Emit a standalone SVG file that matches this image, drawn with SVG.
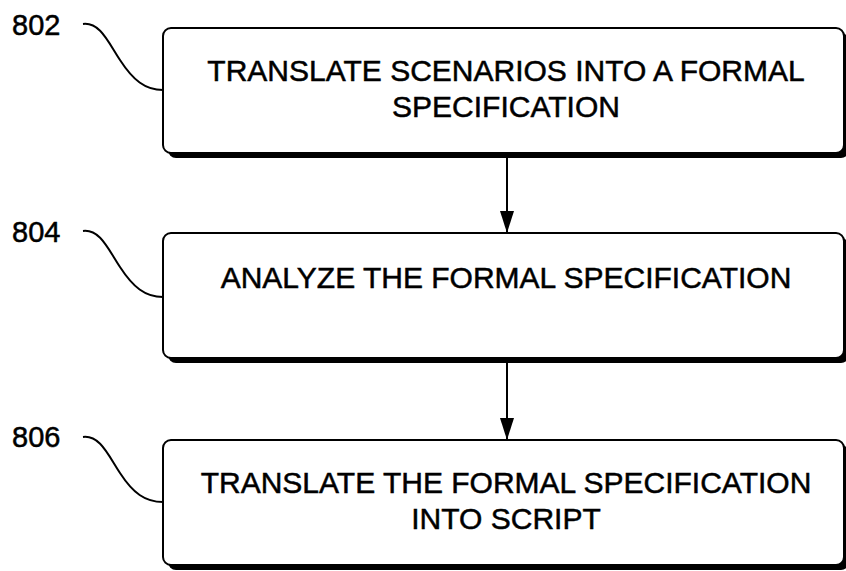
<svg xmlns="http://www.w3.org/2000/svg" width="846" height="571" viewBox="0 0 846 571">
<style>
.box{fill:#fff;stroke:#000;stroke-width:2}
.shadow{fill:#000}
.t{font-family:"Liberation Sans",Arial,sans-serif;font-size:30px;fill:#000;stroke:#000;stroke-width:0.5;text-anchor:middle}
.lbl{font-family:"Liberation Sans",Arial,sans-serif;font-size:29px;fill:#000;stroke:#000;stroke-width:0.5}
.lead{fill:none;stroke:#000;stroke-width:2}
.conn{stroke:#000;stroke-width:2}
</style>
<defs>
<marker id="ah" markerUnits="userSpaceOnUse" markerWidth="24" markerHeight="16" refX="22" refY="7" orient="auto" viewBox="0 0 24 16">
<path d="M0,0 L22,7 L0,14 Z" fill="#000"/>
</marker>
</defs>
<rect width="846" height="571" fill="#fff"/>
<g id="node-802">
<text class="lbl" x="12" y="35">802</text>
<path class="lead" d="M83,24 C100,22 108,42 120,60 C133,80 145,90 163,90"/>
<rect class="shadow" x="168" y="33" width="681" height="125" rx="8"/>
<rect class="box" x="163" y="28" width="681" height="125" rx="8"/>
<text class="t" x="506" y="81">TRANSLATE SCENARIOS INTO A FORMAL</text>
<text class="t" x="506" y="117">SPECIFICATION</text>
</g>
<g id="node-804">
<text class="lbl" x="12" y="242">804</text>
<path class="lead" d="M83,231 C100,229 108,249 120,267 C133,287 145,297 163,297"/>
<rect class="shadow" x="168" y="238" width="681" height="125" rx="8"/>
<rect class="box" x="163" y="233" width="681" height="125" rx="8"/>
<text class="t" x="506" y="288">ANALYZE THE FORMAL SPECIFICATION</text>
</g>
<g id="node-806">
<text class="lbl" x="12" y="447">806</text>
<path class="lead" d="M83,437 C100,435 108,455 120,473 C133,493 145,502 163,502"/>
<rect class="shadow" x="168" y="445" width="681" height="125" rx="8"/>
<rect class="box" x="163" y="440" width="681" height="125" rx="8"/>
<text class="t" x="506" y="493">TRANSLATE THE FORMAL SPECIFICATION</text>
<text class="t" x="506" y="529">INTO SCRIPT</text>
</g>
<g id="connectors">
<line class="conn" x1="507" y1="158" x2="507" y2="233" marker-end="url(#ah)"/>
<line class="conn" x1="507" y1="363" x2="507" y2="440" marker-end="url(#ah)"/>
</g>
</svg>
